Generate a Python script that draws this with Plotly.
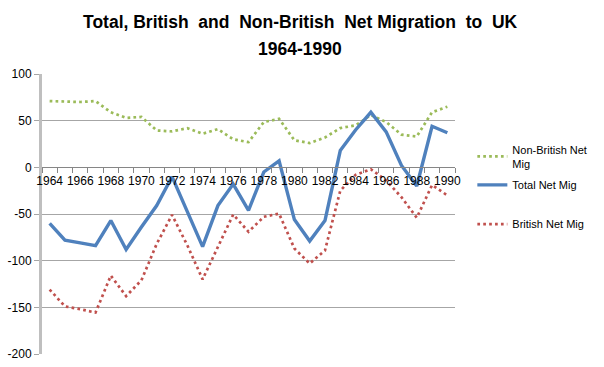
import plotly.graph_objects as go

years = list(range(1964, 1991))
total_net = [-60, -78, -81, -84, -57, -88, -64, -41, -10, -48, -85, -41, -18, -46, -5, 7,
             -56, -79, -57, 18, 40, 59, 38, 2, -20, 44, 37]
non_british = [71, 70.5, 70, 71, 59, 53, 54, 39.5, 38.5, 42, 36, 41, 30, 27, 48.5, 52,
               29, 26, 32, 42, 45, 56, 48.5, 35, 33, 59, 65]
british = [-131, -149, -152, -155.6, -116, -138, -121, -82, -51, -83.5, -120, -85, -50.6, -69, -53, -49.6,
           -87, -103, -89, -25, -8, -2, -14, -32, -54, -19, -30]

y_ticks = [100, 50, 0, -50, -100, -150, -200]
y_ticklabels = ["100", "50", "0", "-50", "-100", "-150", "-200"]
x_ticks = list(range(1964, 1991, 2))
x_ticklabels = [str(y) for y in x_ticks]

title_line1 = "Total, British  and  Non-British  Net Migration  to  UK"
title_line2 = "1964-1990"

FONT = "Liberation Sans"

fig = go.Figure()
fig.add_trace(go.Scatter(x=years, y=non_british, mode="lines", name="Non-British Net<br>Mig",
                         line=dict(color="#9BBB59", width=2.7, dash="2.7px,3.2px"),
                         legend="legend"))
fig.add_trace(go.Scatter(x=years, y=total_net, mode="lines", name="Total Net Mig",
                         line=dict(color="#4F81BD", width=3.4),
                         legend="legend2"))
fig.add_trace(go.Scatter(x=years, y=british, mode="lines", name="British Net Mig",
                         line=dict(color="#C0504D", width=2.7, dash="2.7px,3.2px"),
                         legend="legend3"))

leg_common = dict(x=1.042, xanchor="left", yanchor="middle",
                  font=dict(family=FONT, size=11, color="black"),
                  itemwidth=30, bgcolor="rgba(0,0,0,0)")

title_x = (302 - 42) / 416

fig.update_layout(
    width=604, height=367,
    margin=dict(l=42, r=146, t=74, b=13),
    paper_bgcolor="white", plot_bgcolor="white",
    font=dict(family=FONT, size=12, color="black"),
    showlegend=True,
    legend=dict(y=0.705, **leg_common),
    legend2=dict(y=0.604, **leg_common),
    legend3=dict(y=0.464, **leg_common),
    annotations=[
        dict(text="<b>" + title_line1 + "</b>", xref="paper", yref="paper", x=title_x, xanchor="center",
             y=(354 - 22) / 280, yanchor="middle", showarrow=False,
             font=dict(family=FONT, size=17.5, color="black")),
        dict(text="<b>" + title_line2 + "</b>", xref="paper", yref="paper", x=title_x, xanchor="center",
             y=(354 - 49) / 280, yanchor="middle", showarrow=False,
             font=dict(family=FONT, size=17.5, color="black")),
    ],
    xaxis=dict(range=[1963.5, 1990.5], tickmode="array", tickvals=x_ticks, ticktext=x_ticklabels,
               showgrid=False, zeroline=False, showline=True, linecolor="#868686", linewidth=1,
               anchor="free", position=2/3, ticks="", ticklabelstandoff=2, automargin=False,
               tickfont=dict(family=FONT, size=12, color="black"),
               minor=dict(tickmode="linear", tick0=1963.5, dtick=1, ticks="outside", ticklen=5,
                          tickcolor="#868686", showgrid=False)),
    yaxis=dict(range=[-200, 100], tickmode="array", tickvals=y_ticks, ticktext=y_ticklabels,
               showgrid=True, gridcolor="#A6A6A6", gridwidth=1, zeroline=False,
               showline=True, linecolor="#BFBFBF", linewidth=3, ticks="outside", ticklen=5,
               tickcolor="#A6A6A6", tickfont=dict(family=FONT, size=12, color="black"),
               domain=[0, 1], automargin=False),
)

fig.write_html("out.html", config={"displayModeBar": False},
               post_script="document.body.style.margin='0';")
